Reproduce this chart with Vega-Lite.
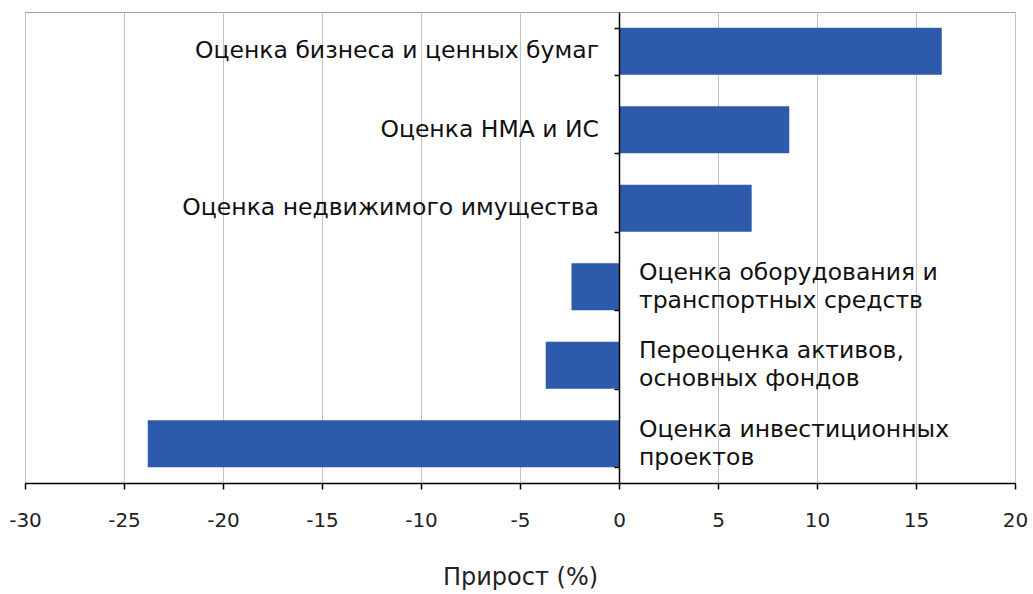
{
  "$schema": "https://vega.github.io/schema/vega-lite/v6.json",
  "width": 990,
  "height": 471,
  "autosize": "none",
  "padding": {"left": 25, "top": 12, "right": 18, "bottom": 111},
  "background": "white",
  "config": {
    "view": {"stroke": "#a0a0a0", "strokeWidth": 1},
    "font": "DejaVu Sans"
  },
  "data": {
    "values": [
      {"cat": "Оценка бизнеса и ценных бумаг", "label": "Оценка бизнеса и ценных  бумаг", "value": 16.3},
      {"cat": "Оценка НМА и ИС", "label": "Оценка НМА и ИС", "value": 8.6},
      {"cat": "Оценка недвижимого имущества", "label": "Оценка недвижимого  имущества", "value": 6.7},
      {"cat": "Оценка оборудования и транспортных средств", "label": "Оценка оборудования и\nтранспортных средств", "value": -2.4},
      {"cat": "Переоценка активов, основных фондов", "label": "Переоценка активов,\n\u00a0основных фондов", "value": -3.7},
      {"cat": "Оценка инвестиционных проектов", "label": "\u00a0Оценка инвестиционных\nпроектов", "value": -23.8}
    ]
  },
  "encoding": {
    "y": {
      "field": "cat",
      "type": "nominal",
      "sort": null,
      "scale": {"paddingInner": 0.4, "paddingOuter": 0.2},
      "axis": {
        "orient": "left",
        "offset": -594,
        "labels": false,
        "title": null,
        "grid": false,
        "domainColor": "black",
        "domainWidth": 1.5,
        "tickColor": "black",
        "tickWidth": 1.5,
        "tickSize": 5,
        "tickBand": "extent",
        "zindex": 2
      }
    }
  },
  "layer": [
    {
      "mark": {"type": "bar", "color": "#2D5AAB"},
      "encoding": {
        "x": {
          "field": "value",
          "type": "quantitative",
          "scale": {"domain": [-30, 20], "nice": false},
          "axis": {
            "values": [-30, -25, -20, -15, -10, -5, 0, 5, 10, 15, 20],
            "labelExpr": "toString(datum.value)",
            "title": "Прирост (%)",
            "titleFont": "DejaVu Sans",
            "titleFontSize": 24,
            "titleFontWeight": "normal",
            "titleColor": "#222222",
            "titlePadding": 35,
            "labelFont": "DejaVu Sans",
            "labelFontSize": 20,
            "labelColor": "#222222",
            "labelPadding": 21,
            "labelFlush": false,
            "domainColor": "black",
            "domainWidth": 1.5,
            "tickColor": "black",
            "tickWidth": 1.5,
            "tickSize": 6,
            "grid": true,
            "gridColor": "#c4c4c4",
            "gridWidth": 1
          }
        }
      }
    },
    {
      "transform": [{"filter": "datum.value > 0"}],
      "mark": {"type": "text", "align": "right", "baseline": "middle", "dx": -20, "fontSize": 23.5, "font": "DejaVu Sans", "color": "#111111", "lineBreak": "\n", "lineHeight": 28},
      "encoding": {
        "x": {"datum": 0, "type": "quantitative"},
        "text": {"field": "label"}
      }
    },
    {
      "transform": [{"filter": "datum.value < 0"}],
      "mark": {"type": "text", "align": "left", "baseline": "middle", "dx": 20, "dy": -14, "fontSize": 23.5, "font": "DejaVu Sans", "color": "#111111", "lineBreak": "\n", "lineHeight": 28},
      "encoding": {
        "x": {"datum": 0, "type": "quantitative"},
        "text": {"field": "label"}
      }
    }
  ]
}
